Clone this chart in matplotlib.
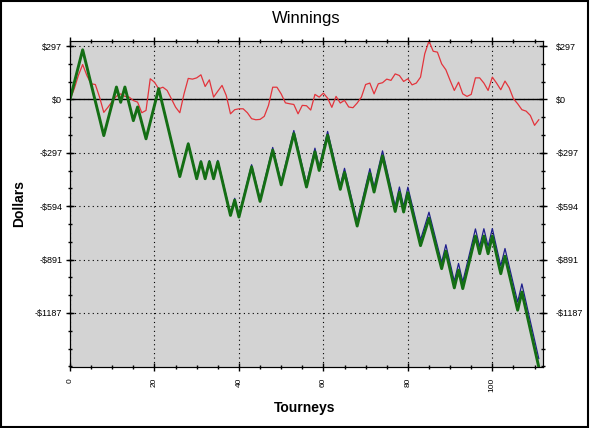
import matplotlib.pyplot as plt
import matplotlib.patches as patches
from matplotlib.ticker import MultipleLocator

# one value per tourney
tourney = list(range(112))

red = [0, 59, 135, 194, 133, 87, 83, 13, -72, -43,
       -11, 18, 31, 17, 13, -6, -15, -74, -61, 115,
       96, 59, 68, 50, 4, -43, -74, 31, 117, 113,
       120, 137, 72, 109, 13, 46, 78, 22, -80, -57,
       -52, -52, -74, -107, -113, -111, -94, -33, 68, 68,
       31, -19, -24, -28, -80, -33, -35, -59, 28, 13,
       35, 7, -44, 17, -20, -5, -42, -46, -20, 13,
       83, 91, 31, 87, 93, 113, 106, 142, 133, 100,
       115, 81, 91, 124, 254, 325, 268, 263, 198, 165,
       106, 50, 96, 31, 17, 28, 120, 120, 91, 50,
       124, 91, 54, 102, 65, 4, -24, -57, -65, -89,
       -144, -113]

green = [0, 92, 184, 276, 181, 85, -10, -105, -201, -111,
         -21, 69, -16, 69, -24, -118, -42, -130, -219, -126,
         -33, 60, -38, -135, -233, -331, -429, -338, -247, -344,
         -441, -347, -441, -347, -441, -347, -446, -546, -645, -560,
         -654, -561, -468, -375, -471, -567, -472, -377, -282, -378,
         -475, -380, -285, -190, -289, -388, -487, -389, -291, -395,
         -297, -199, -299, -400, -500, -406, -506, -605, -704, -607,
         -509, -412, -515, -414, -314, -417, -520, -623, -517, -626,
         -519, -617, -715, -813, -737, -661, -754, -848, -941, -844,
         -946, -1048, -949, -1052, -955, -858, -760, -858, -760, -858,
         -760, -865, -969, -872, -972, -1072, -1172, -1071, -1175, -1280,
         -1384, -1488]

blue = [0, 92, 184, 276, 181, 85, -10, -105, -201, -111,
        -21, 69, -16, 69, -24, -118, -42, -130, -219, -126,
        -33, 61, -37, -133, -231, -328, -426, -334, -243, -339,
        -436, -341, -435, -340, -434, -339, -438, -537, -636, -550,
        -644, -550, -457, -363, -459, -554, -458, -363, -267, -363,
        -459, -364, -268, -173, -271, -370, -468, -370, -271, -375,
        -276, -178, -277, -378, -477, -383, -482, -581, -679, -582,
        -483, -385, -488, -386, -286, -388, -491, -593, -487, -595,
        -488, -585, -683, -780, -704, -627, -720, -813, -906, -808,
        -910, -1011, -912, -1014, -917, -819, -720, -818, -719, -817,
        -718, -823, -926, -829, -928, -1028, -1127, -1026, -1129, -1234,
        -1337, -1441]

y_ticks = [297, 0, -297, -594, -891, -1187]
y_labels = [r'\$297', r'\$0', r'-\$297', r'-\$594', r'-\$891', r'-\$1187']
x_ticks = [0, 20, 40, 60, 80, 100]

plt.rcParams['font.family'] = ['Liberation Sans', 'DejaVu Sans']

fig = plt.figure(figsize=(5.9, 4.28), dpi=100)
ax = fig.add_axes([70 / 590, 61 / 428, 473 / 590, 326 / 428])
ax.set_facecolor('#d3d3d3')
ax.set_axisbelow(True)

ax.plot(tourney, red, color='#e3343c', lw=0.9, zorder=3)
ax.plot(tourney, blue, color='#1e1e8c', lw=0.9, zorder=4)
ax.plot(tourney, green, color='#146e14', lw=2.1, zorder=5)
ax.axhline(0, color='black', lw=1, zorder=2)

ax.set_xlim(0, 112)
ax.set_ylim(min(green + blue + red), max(green + blue + red))

ax.grid(True, which='major', color='black', linestyle=(0, (1, 3)), lw=0.8)

ax.set_xticks(x_ticks)
ax.xaxis.set_minor_locator(MultipleLocator(5))
ax.set_yticks(y_ticks, y_labels)
ax.yaxis.set_minor_locator(MultipleLocator(296.9 / 3))

ax.tick_params(which='major', direction='inout', length=6, width=1, labelsize=6.5)
ax.tick_params(which='minor', direction='inout', length=3.5, width=1)
ax.tick_params(axis='x', which='both', top=True, labelrotation=90, pad=5, labelsize=6)
ax.tick_params(axis='y', which='both', pad=2.5)

twin = ax.twinx()
twin.set_ylim(ax.get_ylim())
twin.set_yticks(y_ticks, y_labels)
twin.yaxis.set_minor_locator(MultipleLocator(296.9 / 3))
twin.tick_params(which='major', direction='inout', length=6, width=1, labelsize=6.5, pad=6)
twin.tick_params(which='minor', direction='inout', length=3.5, width=1)

fig.text(306 / 590, 1 - 18 / 428, 'Winnings', ha='center', va='center', fontsize=12)
fig.text(19 / 590, 1 - 204 / 428, 'Dollars', rotation=90, ha='center', va='center',
         fontsize=10, fontweight='bold')
fig.text(305 / 590, 1 - 408 / 428, 'Tourneys', ha='center', va='center',
         fontsize=10, fontweight='bold')

fig.patches.append(patches.Rectangle((0.001, 0.002), 0.996, 0.996, transform=fig.transFigure,
                                     fill=False, edgecolor='black', lw=1.5))

fig.savefig('out.png', dpi=100)
